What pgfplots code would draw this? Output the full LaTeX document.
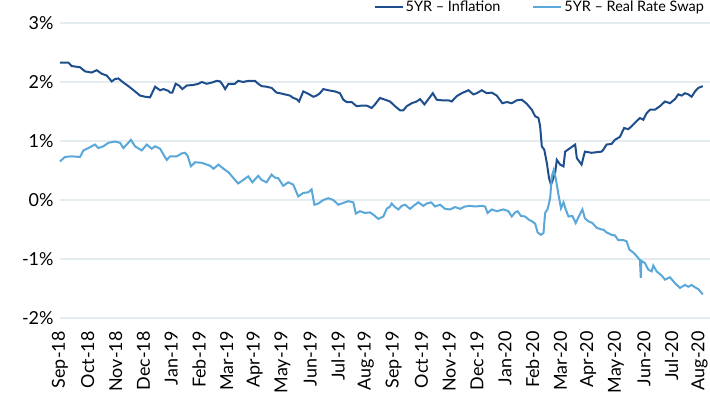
\documentclass[border=0pt]{standalone}
\usepackage{pgfplots}
\pgfplotsset{compat=1.18}
\usepackage{fontspec}
\setmainfont{Lato}
\definecolor{darkblue}{HTML}{1F4E8C}
\definecolor{lightblue}{HTML}{5AA7DA}
\definecolor{gridc}{HTML}{E4ECF0}
\begin{document}
\begin{tikzpicture}
\useasboundingbox (-60bp,-82bp) rectangle (650bp,318bp);
\begin{axis}[
  at={(0,0)}, anchor=south west,
  scale only axis, width=650bp, height=295bp,
  xmin=0, xmax=23.38, ymin=-2, ymax=3,
  axis line style={draw=none},
  major tick length=0pt,
  ytick={-2,-1,0,1,2,3},
  yticklabels={-2\%,-1\%,0\%,1\%,2\%,3\%},
  yticklabel style={font=\fontsize{18}{18}\selectfont, color=black, xshift=-3bp},
  xtick={0,...,23},
  xticklabels={Sep-18,Oct-18,Nov-18,Dec-18,Jan-19,Feb-19,Mar-19,Apr-19,May-19,Jun-19,Jul-19,Aug-19,Sep-19,Oct-19,Nov-19,Dec-19,Jan-20,Feb-20,Mar-20,Apr-20,May-20,Jun-20,Jul-20,Aug-20},
  xticklabel style={font=\fontsize{18}{18}\selectfont, rotate=90, anchor=east, yshift=0bp, xshift=-10bp},
  ymajorgrids, grid style={gridc, line width=2bp},
  clip=false,
  legend columns=2,
  legend style={draw=none, fill=none, at={(1,1)}, anchor=east, xshift=-4bp, yshift=16bp,
    font=\fontsize{14.5}{14.5}\selectfont, inner sep=0pt,
    /tikz/every even column/.append style={column sep=30bp}},
  legend image code/.code={\draw[#1] (0bp,0bp) -- (28bp,0bp);},
]
\addplot[darkblue, line width=2bp] coordinates {
(0.00,2.33)(0.30,2.33)(0.42,2.27)(0.72,2.25)(0.90,2.18)(1.14,2.16)(1.32,2.20)(1.50,2.14)(1.68,2.11)(1.86,2.01)(1.98,2.05)(2.10,2.06)(2.28,1.99)(2.46,1.93)(2.70,1.84)(2.88,1.77)(3.06,1.75)(3.24,1.74)(3.42,1.92)(3.60,1.86)(3.72,1.88)(3.90,1.85)
(3.96,1.82)(4.04,1.82)(4.16,1.97)(4.28,1.94)(4.40,1.88)(4.56,1.94)(4.80,1.95)(4.98,1.97)(5.10,2.00)(5.28,1.97)(5.46,1.99)(5.64,2.02)(5.76,2.01)(5.84,1.96)(5.94,1.88)(6.06,1.97)(6.29,1.97)(6.41,2.02)(6.59,2.00)(6.77,2.02)(7.01,2.02)(7.13,1.97)(7.25,1.93)(7.43,1.92)(7.61,1.90)(7.79,1.82)
(7.91,1.81)(8.09,1.79)(8.27,1.77)(8.39,1.73)(8.51,1.71)(8.60,1.67)(8.75,1.84)(8.93,1.80)(9.11,1.75)(9.23,1.77)(9.35,1.81)(9.47,1.88)(9.65,1.86)(9.89,1.84)(10.07,1.81)(10.19,1.70)(10.31,1.66)(10.49,1.66)(10.67,1.59)(10.85,1.60)(11.03,1.60)(11.21,1.56)(11.33,1.62)(11.51,1.73)(11.69,1.70)
(11.87,1.67)(12.05,1.59)(12.23,1.52)(12.35,1.52)(12.47,1.59)(12.65,1.64)(12.83,1.67)(12.95,1.71)(13.11,1.62)(13.25,1.71)(13.41,1.81)(13.55,1.70)(13.73,1.69)(13.97,1.69)(14.09,1.67)(14.27,1.76)(14.45,1.81)(14.69,1.86)(14.87,1.79)(14.99,1.81)(15.17,1.86)(15.35,1.81)(15.53,1.82)(15.71,1.77)
(15.91,1.64)(16.07,1.66)(16.25,1.64)(16.43,1.69)(16.61,1.70)(16.79,1.63)(16.97,1.53)(17.09,1.42)(17.21,1.39)(17.27,1.25)(17.33,0.91)(17.42,0.85)(17.51,0.63)(17.59,0.37)(17.66,0.26)(17.71,0.32)(17.81,0.46)(17.87,0.68)(17.99,0.60)(18.11,0.57)(18.17,0.82)(18.35,0.88)(18.53,0.94)(18.59,0.71)(18.76,0.60)(18.88,0.82)(19.12,0.80)(19.30,0.81)(19.48,0.82)
(19.54,0.85)(19.66,0.94)(19.84,0.95)(19.96,1.02)(20.14,1.07)(20.29,1.22)(20.44,1.20)(20.56,1.25)(20.68,1.31)(20.86,1.39)(20.98,1.36)(21.10,1.47)(21.22,1.53)(21.40,1.53)(21.58,1.59)(21.76,1.67)(21.94,1.64)(22.12,1.71)(22.24,1.79)(22.36,1.77)(22.48,1.81)(22.60,1.79)(22.72,1.75)(22.84,1.84)(22.96,1.90)(23.12,1.93)
};
\addlegendentry{5YR -- Inflation}
\addplot[lightblue, line width=2bp] coordinates {
(0.00,0.655)(0.18,0.73)(0.42,0.74)(0.72,0.73)(0.84,0.84)(1.02,0.88)(1.26,0.94)(1.38,0.88)(1.56,0.91)(1.74,0.97)(1.98,0.99)(2.16,0.97)(2.28,0.88)(2.40,0.94)(2.55,1.02)(2.70,0.91)(2.94,0.84)(3.12,0.94)(3.30,0.87)(3.42,0.91)(3.60,0.87)(3.72,0.77)(3.84,0.68)(3.96,0.74)
(4.02,0.74)(4.20,0.74)(4.38,0.79)(4.50,0.80)(4.59,0.75)(4.71,0.57)(4.86,0.64)(5.10,0.63)(5.28,0.60)(5.40,0.58)(5.52,0.53)(5.70,0.60)(5.88,0.53)(6.06,0.47)(6.24,0.37)(6.41,0.28)(6.59,0.34)(6.77,0.40)(6.92,0.30)(7.13,0.41)(7.25,0.34)(7.43,0.30)(7.61,0.43)(7.73,0.38)
(7.85,0.37)(8.03,0.24)(8.21,0.30)(8.39,0.26)(8.57,0.06)(8.75,0.12)(8.93,0.13)(9.05,0.18)(9.15,-0.08)(9.29,-0.06)(9.47,0.00)(9.65,0.03)(9.83,0.00)(10.01,-0.08)(10.19,-0.05)(10.37,-0.02)(10.55,-0.04)(10.64,-0.23)(10.79,-0.19)(10.97,-0.22)(11.15,-0.21)(11.27,-0.25)(11.45,-0.32)(11.63,-0.28)(11.75,-0.15)(11.87,-0.11)
(11.93,-0.06)(12.05,-0.12)(12.17,-0.16)(12.29,-0.10)(12.41,-0.08)(12.59,-0.15)(12.77,-0.08)(12.89,-0.04)(13.07,-0.10)(13.19,-0.06)(13.35,-0.04)(13.49,-0.11)(13.67,-0.08)(13.85,-0.15)(14.03,-0.16)(14.21,-0.12)(14.39,-0.15)(14.57,-0.11)(14.75,-0.10)(14.93,-0.11)(15.17,-0.10)(15.29,-0.11)(15.38,-0.22)(15.53,-0.16)(15.71,-0.19)
(15.95,-0.16)(16.13,-0.19)(16.25,-0.28)(16.37,-0.21)(16.46,-0.19)(16.58,-0.27)(16.73,-0.28)(16.85,-0.33)(16.97,-0.36)(17.09,-0.40)(17.18,-0.55)(17.30,-0.59)(17.39,-0.56)(17.45,-0.22)(17.54,-0.15)(17.63,0.03)(17.69,0.40)(17.76,0.51)(17.83,0.37)(17.93,0.09)(18.02,-0.14)(18.11,-0.04)(18.19,-0.16)(18.29,-0.28)(18.43,-0.27)(18.55,-0.39)(18.65,-0.29)(18.79,-0.16)(18.88,-0.31)(19.00,-0.36)(19.15,-0.39)(19.30,-0.47)(19.48,-0.50)
(19.54,-0.50)(19.66,-0.55)(19.84,-0.59)(19.96,-0.60)(20.08,-0.68)(20.26,-0.68)(20.38,-0.70)(20.48,-0.84)(20.62,-0.89)(20.74,-0.95)(20.86,-1.02)(20.89,-1.32)(20.91,-1.03)(21.04,-1.07)(21.16,-1.18)(21.28,-1.21)(21.34,-1.11)(21.46,-1.21)(21.64,-1.28)(21.76,-1.35)(21.94,-1.31)(22.12,-1.41)(22.30,-1.49)(22.48,-1.44)(22.60,-1.47)(22.72,-1.44)(22.84,-1.48)(22.96,-1.51)(23.12,-1.60)
};
\addlegendentry{5YR -- Real Rate Swap}
\end{axis}
\end{tikzpicture}
\end{document}
